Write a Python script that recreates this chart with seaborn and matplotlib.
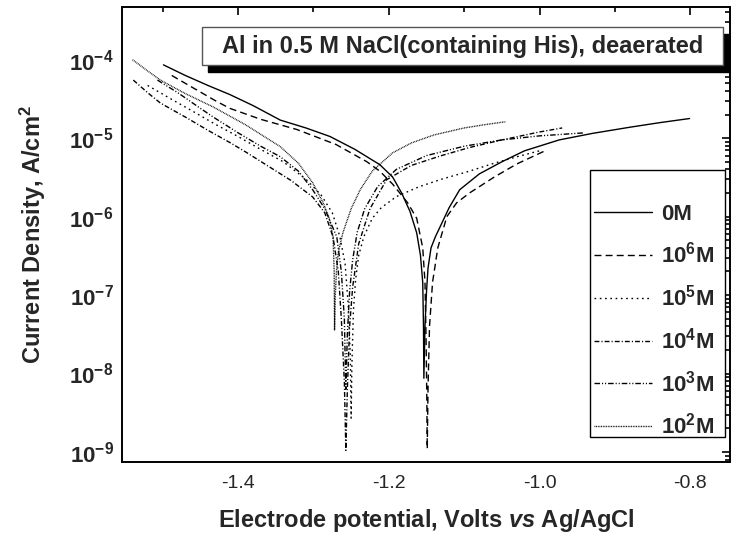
import numpy as np
import pandas as pd
import seaborn as sns
import matplotlib
matplotlib.use("Agg")
import matplotlib.pyplot as plt
from matplotlib.patches import Rectangle
from matplotlib.ticker import FixedLocator, MultipleLocator, LogLocator, NullFormatter

# Potentiodynamic polarization curves: potential (V vs Ag/AgCl) and current density (A/cm2)
labels = ["0M", r"10$^{\mathbf{6}}$M", r"10$^{\mathbf{5}}$M",
          r"10$^{\mathbf{4}}$M", r"10$^{\mathbf{3}}$M", r"10$^{\mathbf{2}}$M"]

E_0M = [-1.499, -1.47, -1.44, -1.411, -1.38, -1.344, -1.31, -1.278, -1.245, -1.212,
        -1.195, -1.183, -1.172, -1.163, -1.158, -1.155, -1.154, -1.1535, -1.152, -1.150,
        -1.148, -1.144, -1.138, -1.132, -1.12, -1.106, -1.08, -1.05, -1.02, -0.974,
        -0.93, -0.88, -0.84, -0.801]
I_0M = [8.6e-5, 6.3e-5, 4.7e-5, 3.6e-5, 2.6e-5, 1.7e-5, 1.35e-5, 1.05e-5, 7.2e-6, 4.6e-6,
        3.2e-6, 2.0e-6, 1.17e-6, 6.2e-7, 3.2e-7, 1.45e-7, 4.0e-8, 8.7e-9, 4.0e-8, 1.1e-7,
        2.2e-7, 4.0e-7, 5.6e-7, 7.4e-7, 1.3e-6, 2.2e-6, 3.5e-6, 5.0e-6, 6.9e-6, 9.5e-6,
        1.15e-5, 1.38e-5, 1.58e-5, 1.78e-5]

E_1e6 = [-1.488, -1.46, -1.43, -1.411, -1.37, -1.322, -1.27, -1.229, -1.212, -1.195,
         -1.175, -1.163, -1.155, -1.152, -1.1505, -1.1495, -1.149, -1.148, -1.146, -1.142,
         -1.135, -1.123, -1.11, -1.093, -1.06, -1.03, -0.99]
I_1e6 = [6.3e-5, 4.4e-5, 3.0e-5, 2.4e-5, 1.74e-5, 1.29e-5, 8.3e-6, 5.0e-6, 3.8e-6, 2.6e-6,
         1.5e-6, 9.5e-7, 4.0e-7, 1.45e-7, 2.5e-8, 4.0e-9, 1.1e-9, 6.3e-9, 4.0e-8, 1.45e-7,
         4.0e-7, 1.0e-6, 1.5e-6, 2.0e-6, 3.2e-6, 4.7e-6, 7.1e-6]

E_1e5 = [-1.52, -1.49, -1.46, -1.43, -1.40, -1.37, -1.34, -1.31, -1.29, -1.275,
         -1.265, -1.258, -1.254, -1.251, -1.250, -1.249, -1.247, -1.244, -1.240, -1.233,
         -1.222, -1.21, -1.19, -1.16, -1.13, -1.093, -1.06, -1.03, -1.00]
I_1e5 = [4.7e-5, 3.2e-5, 2.2e-5, 1.5e-5, 1.05e-5, 7.2e-6, 5.0e-6, 3.0e-6, 1.9e-6, 1.12e-6,
         5.6e-7, 2.5e-7, 7.9e-8, 1.6e-8, 2.7e-9, 1.26e-8, 6.3e-8, 1.6e-7, 3.2e-7, 5.6e-7,
         9.5e-7, 1.3e-6, 1.8e-6, 2.4e-6, 3.0e-6, 3.8e-6, 4.8e-6, 5.8e-6, 6.9e-6]

E_1e4 = [-1.539, -1.52, -1.503, -1.47, -1.44, -1.41, -1.388, -1.36, -1.33, -1.301,
         -1.285, -1.274, -1.267, -1.263, -1.259, -1.257, -1.255, -1.252, -1.248, -1.240,
         -1.225, -1.203, -1.17, -1.13, -1.093, -1.05, -1.00, -0.97]
I_1e4 = [5.5e-5, 3.8e-5, 2.8e-5, 1.86e-5, 1.26e-5, 8.7e-6, 6.5e-6, 4.4e-6, 2.9e-6, 1.78e-6,
         1.12e-6, 5.5e-7, 2.0e-7, 5.0e-8, 7.9e-9, 1.05e-9, 6.3e-9, 4.0e-8, 1.26e-7, 4.5e-7,
         1.26e-6, 2.95e-6, 4.5e-6, 6.0e-6, 7.6e-6, 9.5e-6, 1.2e-5, 1.35e-5]

E_1e3 = [-1.507, -1.48, -1.45, -1.433, -1.40, -1.37, -1.344, -1.32, -1.301, -1.285,
         -1.269, -1.263, -1.259, -1.257, -1.255, -1.252, -1.248, -1.242, -1.232, -1.215,
         -1.19, -1.15, -1.10, -1.05, -1.00, -0.94]
I_1e3 = [5.5e-5, 3.8e-5, 2.4e-5, 1.86e-5, 1.17e-5, 7.9e-6, 5.8e-6, 3.8e-6, 2.2e-6, 1.26e-6,
         5.5e-7, 2.0e-7, 5.0e-8, 6.3e-9, 3.2e-8, 1.12e-7, 2.8e-7, 6.3e-7, 1.26e-6, 2.4e-6,
         4.0e-6, 6.0e-6, 7.9e-6, 9.5e-6, 1.07e-5, 1.17e-5]

E_1e2 = [-1.540, -1.52, -1.503, -1.47, -1.433, -1.39, -1.344, -1.32, -1.301, -1.287,
         -1.279, -1.274, -1.2725, -1.272, -1.271, -1.2695, -1.267, -1.261, -1.250, -1.238,
         -1.222, -1.195, -1.17, -1.14, -1.10, -1.07, -1.045]
I_1e2 = [1.0e-4, 7.2e-5, 5.5e-5, 3.7e-5, 2.5e-5, 1.48e-5, 7.8e-6, 4.8e-6, 2.7e-6, 1.5e-6,
         9.5e-7, 5.6e-7, 2.0e-7, 3.6e-8, 1.0e-7, 2.0e-7, 3.5e-7, 6.2e-7, 1.26e-6, 2.2e-6,
         3.8e-6, 6.5e-6, 8.7e-6, 1.1e-5, 1.35e-5, 1.5e-5, 1.62e-5]

potentials = [E_0M, E_1e6, E_1e5, E_1e4, E_1e3, E_1e2]
currents = [I_0M, I_1e6, I_1e5, I_1e4, I_1e3, I_1e2]

x_ticks = [-1.4, -1.2, -1.0, -0.8]
x_ticklabels = ["-1.4", "-1.2", "-1.0", "-0.8"]
y_ticks = [1e-9, 1e-8, 1e-7, 1e-6, 1e-5, 1e-4]
y_ticklabels = [r"$\mathbf{10^{-9}}$", r"$\mathbf{10^{-8}}$", r"$\mathbf{10^{-7}}$",
                r"$\mathbf{10^{-6}}$", r"$\mathbf{10^{-5}}$", r"$\mathbf{10^{-4}}$"]

df = pd.concat(
    [pd.DataFrame({"E": e, "i": i, "conc": lab})
     for e, i, lab in zip(potentials, currents, labels)],
    ignore_index=True,
)

sns.set_theme(style="white")
plt.rcParams.update({
    "font.family": ["Liberation Sans", "DejaVu Sans"],
    "mathtext.fontset": "custom",
    "mathtext.bf": "Liberation Sans:bold",
    "mathtext.rm": "Liberation Sans",
    "mathtext.it": "Liberation Sans:bold:italic",
    "axes.unicode_minus": False,
    "axes.edgecolor": "black",
    "axes.linewidth": 1.4,
})

line_dashes = {
    labels[0]: "",
    labels[1]: (5, 3),
    labels[2]: (1.2, 2.6),
    labels[3]: (3.5, 1.5, 0.8, 1.5),
    labels[4]: (4, 1.4, 0.8, 1.4, 0.8, 1.4),
    labels[5]: (0.6, 0.6),
}
palette = {lab: "black" for lab in labels}

fig, ax = plt.subplots(figsize=(7.31, 5.36), dpi=100)
fig.subplots_adjust(left=122 / 731, right=729.5 / 731, top=1 - 7 / 536, bottom=1 - 462 / 536)

sns.lineplot(data=df, x="E", y="i", hue="conc", style="conc", units="conc",
             estimator=None, sort=False, palette=palette, dashes=line_dashes,
             hue_order=labels, style_order=labels, linewidth=1.0, legend=False, ax=ax)

ax.set_yscale("log")
ax.set_xlim(-1.554, -0.748)
ax.set_ylim(7.45e-10, 4.7e-4)

ax.xaxis.set_major_locator(FixedLocator(x_ticks))
ax.set_xticklabels(x_ticklabels, fontsize=14)
ax.xaxis.set_minor_locator(MultipleLocator(0.1))
ax.yaxis.set_major_locator(FixedLocator(y_ticks))
ax.set_yticklabels(y_ticklabels, fontsize=16)
ax.yaxis.set_minor_locator(LogLocator(base=10, subs=np.arange(2, 10)))
ax.yaxis.set_minor_formatter(NullFormatter())

ax.tick_params(which="both", direction="in", top=True, right=True, color="black", width=1.2)
ax.tick_params(which="major", length=6)
ax.tick_params(which="minor", length=3.5)
ax.tick_params(axis="x", which="major", pad=9)
ax.tick_params(axis="y", which="major", pad=6)

ax.set_xlabel(r"Electrode potential, Volts $\mathit{vs}$ Ag/AgCl", fontsize=17,
              fontweight="bold", labelpad=11)
ax.set_ylabel(r"Current Density, A/cm$^{\mathbf{2}}$", fontsize=17, fontweight="bold",
              labelpad=15)

# framed title with a solid drop shadow
bx0, bx1, by0, by1 = 0.1318, 0.9885, 0.8725, 0.956
sx, sy = 6 / 607, 7 / 455
ax.add_patch(Rectangle((bx0 + sx, by0 - sy), bx1 - bx0, by1 - by0, transform=ax.transAxes,
                       facecolor="black", edgecolor="black", zorder=5, clip_on=False))
ax.add_patch(Rectangle((bx0, by0), bx1 - bx0, by1 - by0, transform=ax.transAxes,
                       facecolor="white", edgecolor="#555555", linewidth=1.0, zorder=6,
                       clip_on=False))
ax.text((bx0 + bx1) / 2, (by0 + by1) / 2, "Al in 0.5 M NaCl(containing His), deaerated",
        transform=ax.transAxes, ha="center", va="center", fontsize=17, fontweight="bold",
        zorder=7)

# legend box frame, entries placed inside it
lx0, lx1, ly0, ly1 = 0.7710, 0.9934, 0.0549, 0.6418
ax.add_patch(Rectangle((lx0, ly0), lx1 - lx0, ly1 - ly0, transform=ax.transAxes,
                       facecolor="white", edgecolor="black", linewidth=1.0, zorder=8))
leg = ax.legend(ax.get_lines()[:len(labels)], labels, loc="lower right",
                bbox_to_anchor=(0.9934, 0.0264), frameon=False,
                prop={"weight": "bold", "size": 16},
                handlelength=2.6, handletextpad=0.4, labelspacing=0.76,
                borderpad=0.5, borderaxespad=0)
leg.set_zorder(9)

fig.savefig("out.png", dpi=100)
